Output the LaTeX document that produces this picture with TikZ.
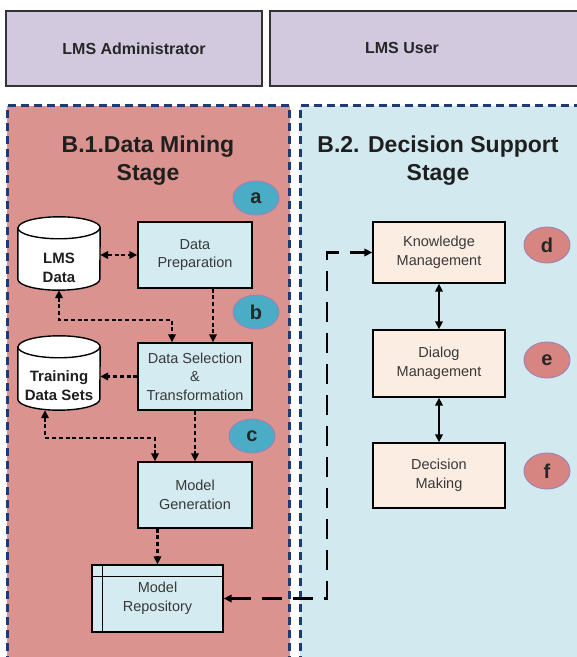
\documentclass[tikz,border=0pt]{standalone}
\usepackage{fontspec}
\setmainfont{Liberation Sans}
\usetikzlibrary{arrows.meta,calc,shapes.geometric}

\definecolor{hdrfill}{RGB}{211,201,223}
\definecolor{panelred}{RGB}{218,147,143}
\definecolor{panelcyan}{RGB}{210,233,239}
\definecolor{panelline}{RGB}{32,58,118}
\definecolor{boxcyan}{RGB}{212,236,241}
\definecolor{boxpeach}{RGB}{252,237,227}
\definecolor{tagteal}{RGB}{75,172,198}
\definecolor{tagsalmon}{RGB}{215,133,128}
\definecolor{tagline}{RGB}{160,128,180}

% cylinder outline drawn around an empty rectangular node
\newcommand\drawdrum[1]{%
  \path[fill=white, draw=black, line width=1.4pt]
    ($(#1.north west)+(0,-11)$) -- ($(#1.south west)+(0,11)$)
    arc[start angle=180, end angle=360, x radius=41pt, y radius=11pt]
    -- ($(#1.north east)+(0,-11)$)
    arc[start angle=0, end angle=180, x radius=41pt, y radius=11pt] -- cycle;
  \draw[line width=1.4pt] ($(#1.north west)+(0,-11)$)
    arc[start angle=180, end angle=360, x radius=41pt, y radius=11pt];
}

\begin{document}
\begin{tikzpicture}[x=1pt,y=1pt,
  >={Triangle[length=8pt,width=7.5pt]},
  hdr/.style={draw=black!80, line width=1.3pt, fill=hdrfill},
  hdrtext/.style={font=\bfseries\fontsize{16}{19}\selectfont, text=black!85},
  panel/.style={draw=panelline, line width=3pt, dash pattern=on 8pt off 5pt},
  title/.style={align=center, font=\bfseries\fontsize{23}{28}\selectfont, text=black!88},
  stepbox/.style={draw=black, line width=1.4pt, minimum width=114pt, minimum height=66pt,
    align=center, inner sep=0pt, font=\fontsize{14.5}{18.5}\selectfont, text=black!78},
  dbox/.style={stepbox, fill=boxcyan},
  ubox/.style={stepbox, fill=boxpeach, minimum width=132pt},
  drum/.style={minimum width=82pt, inner sep=0pt},
  drumtext/.style={align=center, font=\bfseries\fontsize{15}{19}\selectfont, text=black!88},
  tag/.style={ellipse, draw=tagline, line width=0.9pt, fill=#1, minimum width=46pt,
    minimum height=34pt, inner sep=0pt, font=\bfseries\fontsize{20}{20}\selectfont, text=black!85},
  flow/.style={line width=2.1pt, dash pattern=on 4pt off 2.8pt},
  solidlink/.style={line width=2.1pt},
  longdash/.style={line width=2.2pt, dash pattern=on 20pt off 11pt}
]
\useasboundingbox (0,0) rectangle (577,657);
\clip (0,0) rectangle (577,657);
\fill[white] (0,0) rectangle (577,657);

% role headers
\node[hdr, minimum width=256pt, minimum height=75pt, hdrtext] (admin) at (134,608.5) {LMS Administrator};
\draw[hdr] (270,571) rectangle (600,646);
\node[hdrtext] (user) at (402,609) {LMS User};

% stage panels
\draw[panel, fill=panelred] (7,-20) rectangle (289.5,551);
\draw[panel, fill=panelcyan] (300,-20) rectangle (610,551);

\node[title] (t1) at (148,496) {B.1.Data Mining\\Stage};
\node[title] (t2) at (438,496) {B.2. Decision Support\\Stage};

% data mining stage
\node[drum, minimum height=73pt] (lms) at (59,403.5) {};
\drawdrum{lms}
\node[drumtext] (lmslabel) at (59,389) {LMS\\Data};

\node[drum, minimum height=74pt] (tr) at (59,284) {};
\drawdrum{tr}
\node[drumtext] (trlabel) at (59,271) {Training\\Data Sets};

\node[dbox] (prep) at (195,402) {Data\\Preparation};
\node[dbox, minimum height=67pt] (sel) at (195,280.5) {Data Selection\\\&\\Transformation};
\node[dbox] (mg) at (195,162) {Model\\Generation};
\node[dbox, minimum width=131pt, minimum height=67pt] (repo) at (157.5,58.5) {Model\\Repository};
\draw[line width=1.3pt] ([xshift=11pt]repo.north west) -- ([xshift=11pt]repo.south west);
\draw[line width=1.3pt] ([yshift=-12pt]repo.north west) -- ([yshift=-12pt]repo.north east);

\node[tag=tagteal] (ta) at (256,459) {a};
\node[tag=tagteal] (tb) at (256,345) {b};
\node[tag=tagteal] (tc) at (252,221) {c};

% decision support stage
\node[ubox, minimum height=61pt] (km) at (439,404.5) {Knowledge\\Management};
\node[ubox, minimum height=67pt] (dm) at (439,293.5) {Dialog\\Management};
\node[ubox, minimum height=65pt] (dec) at (439,181.5) {Decision\\Making};

\node[tag=tagsalmon, minimum height=36pt] (td) at (547,412) {d};
\node[tag=tagsalmon, minimum height=36pt] (te) at (547,297) {e};
\node[tag=tagsalmon, minimum height=36pt] (tf) at (547,186) {f};

% connectors
\coordinate (k1) at (172,337);
\coordinate (k2) at (155,219);
\coordinate (k3) at (327,0);

\draw[flow,<->] (lms.east |- prep.west) -- (prep.west);
\draw[flow,->] ([xshift=18pt]prep.south) -- ([xshift=18pt]sel.north);
\draw[flow,<->] (lms.south) |- (k1) -- ([xshift=-23pt]sel.north);
\draw[flow,->] (sel.west) -- (sel.west -| tr.east);
\draw[flow,->] (sel.south) -- (mg.north);
\draw[flow,<->] ([xshift=-14pt]tr.south) |- (k2) -- ([xshift=-40pt]mg.north);
\draw[flow,->] (repo.north |- mg.south) -- (repo.north);

\draw[longdash,<->] (repo.east) -- (repo.east -| k3) -- (km.west -| k3) -- (km.west);

\draw[solidlink,<->] (km.south) -- (dm.north);
\draw[solidlink,<->] (dm.south) -- (dec.north);
\end{tikzpicture}
\end{document}
